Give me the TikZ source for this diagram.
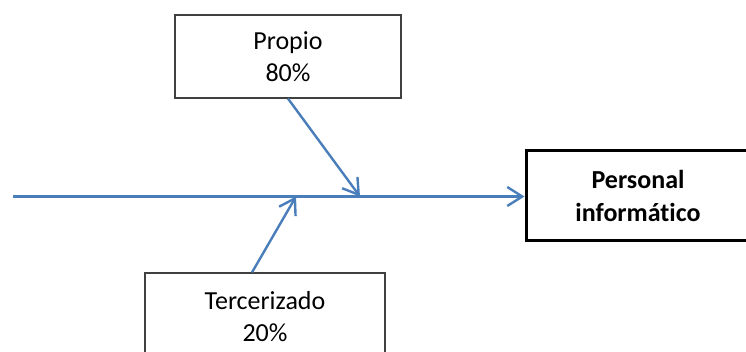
\documentclass[tikz,border=0pt]{standalone}
\usepackage{fontspec}
\setmainfont{Carlito}[Ligatures=NoCommon]
\usetikzlibrary{arrows.meta}
\definecolor{linkblue}{RGB}{74,126,187}
\tikzset{
  causebox/.style={draw=black!75, line width=1.2pt, rectangle, align=center, inner sep=0pt,
    font=\fontsize{26}{32}\selectfont},
  effectbox/.style={draw=black, line width=3pt, rectangle, align=center, inner sep=0pt,
    font=\fontsize{26}{33}\selectfont\bfseries},
  bone/.style={draw=linkblue, line width=2.4pt, -{Straight Barb[length=15pt,width=19pt,line width=2.4pt]}}
}
\begin{document}
\begin{tikzpicture}[x=1pt,y=-1pt]
\useasboundingbox (0,0) rectangle (746,352);
\node[causebox, minimum width=226pt, minimum height=83pt] (propio) at (288,56.5) {Propio\\80\%};
\node[causebox, minimum width=240pt, minimum height=88pt] (terc) at (265,317) {Tercerizado\\20\%};
\node[effectbox, minimum width=224pt, minimum height=90pt] (effect) at (638,196) {Personal\\informático};
\coordinate (start) at (13,196.5);
\coordinate (tipA) at (360,196.5);
\coordinate (tipB) at (296,196.5);
\draw[bone] (start) -- (start -| effect.west);
\draw[bone] (propio.south) -- (tipA);
\draw[bone] ([xshift=-13pt]terc.north) -- (tipB);
\end{tikzpicture}
\end{document}
